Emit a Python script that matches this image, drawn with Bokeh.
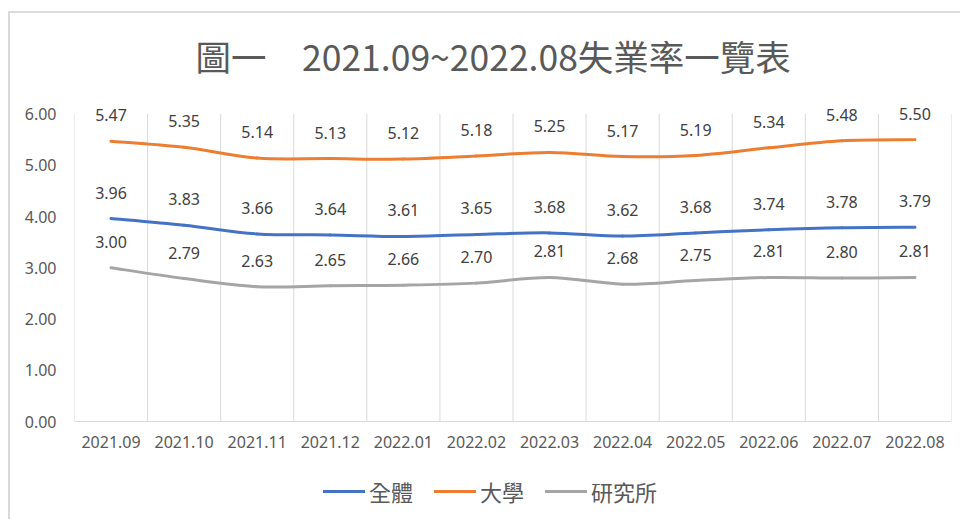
from bokeh.plotting import figure
from bokeh.models import (Range1d, FixedTicker, Legend, LegendItem, NumeralTickFormatter,
                          Title)
from bokeh.core.properties import value
from bokeh.embed import file_html
from bokeh.resources import INLINE

months = ["2021.09", "2021.10", "2021.11", "2021.12", "2022.01", "2022.02",
          "2022.03", "2022.04", "2022.05", "2022.06", "2022.07", "2022.08"]
overall = [3.96, 3.83, 3.66, 3.64, 3.61, 3.65, 3.68, 3.62, 3.68, 3.74, 3.78, 3.79]
college = [5.47, 5.35, 5.14, 5.13, 5.12, 5.18, 5.25, 5.17, 5.19, 5.34, 5.48, 5.50]
graduate = [3.00, 2.79, 2.63, 2.65, 2.66, 2.70, 2.81, 2.68, 2.75, 2.81, 2.80, 2.81]
series_names = ["全體", "大學", "研究所"]
colors = ["#4472C4", "#ED7D31", "#A5A5A5"]
y_ticks = [0, 1, 2, 3, 4, 5, 6]
title_text = "圖一　2021.09~2022.08失業率一覽表"

CJK = "Noto Sans CJK TC"
NUM = "Noto Sans"

n = len(months)
xs = [i + 0.5 for i in range(n)]
bounds = list(range(n + 1))
y_min, y_max = y_ticks[0], y_ticks[-1]

# frame spans 100..518 px; value axis 0..6 maps to 421..113.5 px
ppu = 307.5 / (y_max - y_min)
p = figure(width=960, height=519, output_backend="svg", toolbar_location=None,
           x_range=Range1d(0, n),
           y_range=Range1d(y_min - 97 / ppu, y_max + 13.5 / ppu),
           min_border_left=74, min_border_right=9, min_border_top=100,
           min_border_bottom=1, title=None)
p.border_fill_color = None
p.styles = {"background": "linear-gradient(#dadada, #dadada) 8px 11px / 2px 600px no-repeat, "
                          "linear-gradient(#dadada, #dadada) 8px 11px / 1000px 2px no-repeat, white"}
p.outline_line_color = None
p.background_fill_color = "white"

t = Title(text=title_text, align="left", text_font=CJK, text_font_size="35.5px",
          text_color="#595959", text_font_style="normal", standoff=40, offset=121)
p.add_layout(t, "above")

# category grid lines (between categories, from 0 to the top value)
p.segment(x0=bounds, y0=[y_min] * len(bounds), x1=bounds, y1=[y_max] * len(bounds),
          line_color="#d9d9d9", line_width=1)

# axes
p.xaxis.fixed_location = y_min
p.xaxis.ticker = FixedTicker(ticks=xs)
p.xaxis.major_label_overrides = {x: m for x, m in zip(xs, months)}
p.xaxis.major_tick_in = 0
p.xaxis.major_tick_out = 0
p.xaxis.minor_tick_line_color = None
p.xaxis.axis_line_color = "#d9d9d9"
p.xaxis.major_label_text_font = NUM
p.xaxis.major_label_text_font_size = "16px"
p.xaxis.major_label_text_color = "#595959"
p.xaxis.major_label_standoff = 14

p.yaxis.ticker = FixedTicker(ticks=y_ticks)
p.yaxis.formatter = NumeralTickFormatter(format="0.00")
p.yaxis.major_tick_in = 0
p.yaxis.major_tick_out = 0
p.yaxis.minor_tick_line_color = None
p.yaxis.axis_line_color = None
p.yaxis.major_label_text_font = NUM
p.yaxis.major_label_text_font_size = "16px"
p.yaxis.major_label_text_color = "#595959"
p.yaxis.major_label_standoff = 18

p.ygrid.grid_line_color = None
p.xgrid.grid_line_color = None


def smooth(xv, yv):
    m = len(xv)
    out = {k: [] for k in ["x0", "y0", "x1", "y1", "cx0", "cy0", "cx1", "cy1"]}
    for i in range(m - 1):
        a = max(i - 1, 0)
        d = min(i + 2, m - 1)
        out["x0"].append(xv[i]); out["y0"].append(yv[i])
        out["x1"].append(xv[i + 1]); out["y1"].append(yv[i + 1])
        out["cx0"].append(xv[i] + (xv[i + 1] - xv[a]) / 6)
        out["cy0"].append(yv[i] + (yv[i + 1] - yv[a]) / 6)
        out["cx1"].append(xv[i + 1] - (xv[d] - xv[i]) / 6)
        out["cy1"].append(yv[i + 1] - (yv[d] - yv[i]) / 6)
    return out


items = []
for name, vals, col in zip(series_names, [overall, college, graduate], colors):
    c = smooth(xs, vals)
    r = p.bezier(x0=c["x0"], y0=c["y0"], x1=c["x1"], y1=c["y1"],
                 cx0=c["cx0"], cy0=c["cy0"], cx1=c["cx1"], cy1=c["cy1"],
                 line_color=col, line_width=3, line_cap="round")
    items.append(LegendItem(label=name, renderers=[r]))
    p.text(x=xs, y=vals, text=[f"{v:.2f}" for v in vals], text_align="center",
           text_baseline="middle", y_offset=-26, text_font=value(NUM),
           text_font_size="16px", text_color="#404040")

legend = Legend(items=items, orientation="horizontal", location=(249, 11),
                padding=0, margin=0, spacing=21, glyph_width=42, glyph_height=20,
                label_standoff=4, label_text_font=CJK, label_text_font_size="22px",
                label_text_color="#595959", border_line_color=None,
                background_fill_alpha=0)
p.add_layout(legend, "center")

open("out.html", "w").write(file_html(p, INLINE))
